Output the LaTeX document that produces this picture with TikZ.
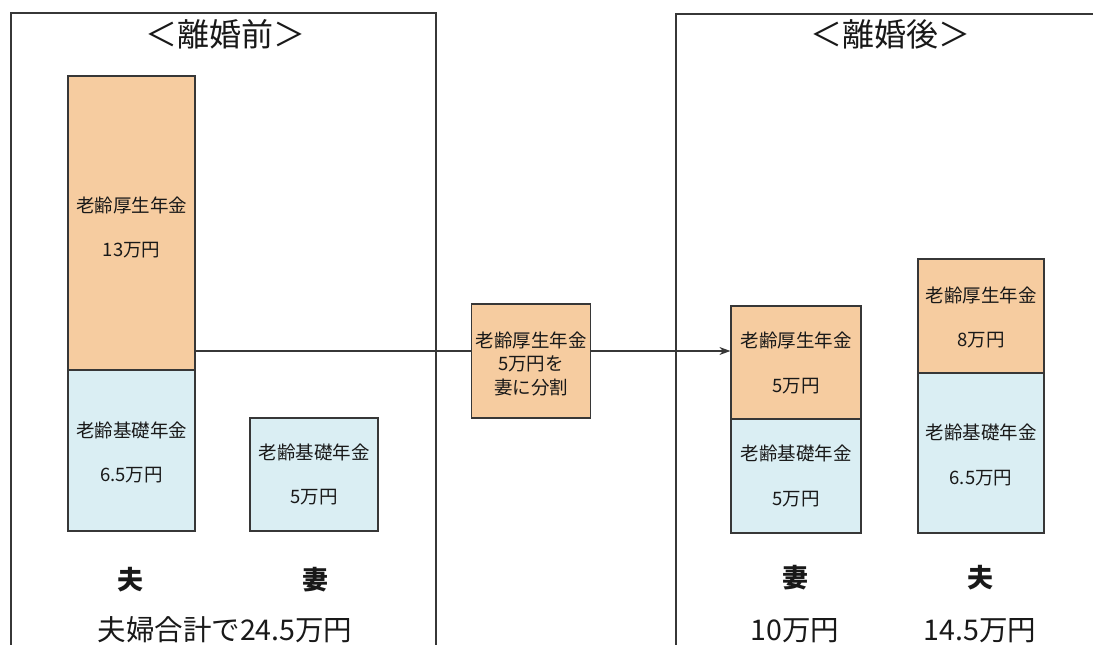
\documentclass[tikz,border=0pt]{standalone}
\usepackage{fontspec}
\setmainfont{Noto Sans CJK JP}
\usetikzlibrary{arrows.meta}
\definecolor{kosei}{RGB}{246,204,160}
\definecolor{kiso}{RGB}{218,238,243}
\definecolor{lineg}{RGB}{55,55,55}
\definecolor{txt}{RGB}{25,25,25}
\tikzset{
  frame/.style={draw=lineg,line width=1.3pt},
  bar/.style={draw=lineg,line width=1.2pt,inner sep=0pt},
  orangebar/.style={bar,fill=kosei},
  bluebar/.style={bar,fill=kiso},
  boxtxt/.style={text=txt,inner sep=0pt,font=\fontsize{18.5}{22}\selectfont},
  title/.style={text=txt,inner sep=0pt,font=\fontsize{32}{36}\selectfont},
  who/.style={text=txt,inner sep=0pt,font=\fontsize{26}{30}\selectfont\bfseries},
  total/.style={text=txt,inner sep=0pt,font=\fontsize{28.5}{32}\selectfont},
  conn/.style={draw=lineg,line width=1.2pt}
}
\begin{document}
\begin{tikzpicture}[x=1pt,y=-1pt]
\useasboundingbox (0,0) rectangle (1093,645);
\fill[white] (0,0) rectangle (1093,645);
\clip (0,0) rectangle (1093,645);
% frames
\draw[frame] (11,700) |- (436,13) -- (436,700);
\draw[frame] (676,700) |- (1120,14);
\node[title] (t1) at (225,34) {＜離婚前＞};
\node[title] (t2) at (890,34) {＜離婚後＞};
% before: husband
\node[orangebar,minimum width=127pt,minimum height=294pt] (hbE) at (131.5,223) {};
\node[bluebar,minimum width=127pt,minimum height=161pt] (hbK) at (131.5,450.5) {};
\node[boxtxt] (hbE1) at (131.5,205) {老齢厚生年金};
\node[boxtxt] (hbE2) at (131.5,250) {13万円};
\node[boxtxt] (hbK1) at (131.5,430) {老齢基礎年金};
\node[boxtxt] (hbK2) at (131.5,475) {6.5万円};
% before: wife
\node[bluebar,minimum width=128pt,minimum height=113pt] (wbK) at (314,474.5) {};
\node[boxtxt] (wbK1) at (314,452) {老齢基礎年金};
\node[boxtxt] (wbK2) at (314,497) {5万円};
\node[who] (hb) at (130,580) {夫};
\node[who] (wb) at (315,580) {妻};
\node[total] (tot) at (225,630) {夫婦合計で24.5万円};
% middle
\node[orangebar,minimum width=119pt,minimum height=114pt] (mid) at (531,361) {};
\node[boxtxt] (m1) at (531,340) {老齢厚生年金};
\node[boxtxt] (m2) at (531,364) {5万円を};
\node[boxtxt] (m3) at (531,388) {妻に分割};
% after: wife
\node[orangebar,minimum width=130pt,minimum height=113pt] (waE) at (796,362.5) {};
\node[bluebar,minimum width=130pt,minimum height=114pt] (waK) at (796,476) {};
\node[boxtxt] (waE1) at (796,340) {老齢厚生年金};
\node[boxtxt] (waE2) at (796,386) {5万円};
\node[boxtxt] (waK1) at (796,453) {老齢基礎年金};
\node[boxtxt] (waK2) at (796,499) {5万円};
% after: husband
\node[orangebar,minimum width=126pt,minimum height=114pt] (haE) at (981,316) {};
\node[bluebar,minimum width=126pt,minimum height=160pt] (haK) at (981,453) {};
\node[boxtxt] (haE1) at (981,295) {老齢厚生年金};
\node[boxtxt] (haE2) at (981,340) {8万円};
\node[boxtxt] (haK1) at (981,432) {老齢基礎年金};
\node[boxtxt] (haK2) at (981,478) {6.5万円};
\node[who] (wa) at (795,578) {妻};
\node[who] (ha) at (980,578) {夫};
\node[total] (wat) at (795,631) {10万円};
\node[total] (hat) at (980,631) {14.5万円};
% connectors
\coordinate (a1) at (hbE.east |- 0,351);
\draw[conn] (a1) -- (a1 -| mid.west);
\draw[conn,-{Stealth[length=11pt,width=8pt]}] (a1 -| mid.east) -- (a1 -| waE.west);
\end{tikzpicture}
\end{document}
